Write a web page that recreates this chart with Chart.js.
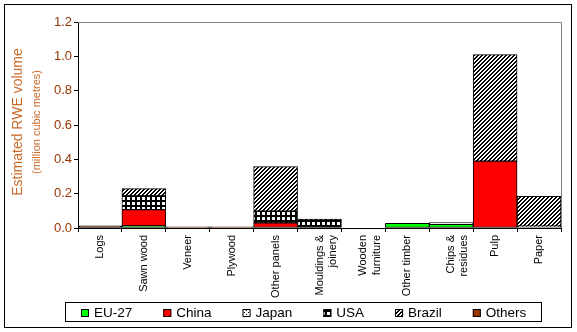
<!DOCTYPE html>
<html>
<head>
<meta charset="utf-8">
<script src="https://cdn.jsdelivr.net/npm/chart.js@4"></script>
<style>
  html, body { margin: 0; padding: 0; background: #fff; }
  #wrap { width: 577px; height: 332px; position: relative; }
</style>
</head>
<body>
<div id="wrap"><canvas id="rweChart"></canvas></div>
<script>
// product groups along the x axis
const categories = ['Logs', 'Sawn wood', 'Veneer', 'Plywood', 'Other panels',
  ['Mouldings &', 'joinery'], ['Wooden', 'furniture'], 'Other timber',
  ['Chips &', 'residues'], 'Pulp', 'Paper'];

// estimated RWE volume by origin, million m3
const eu27   = [null, 0.012, null, null, null, null, null, 0.027, 0.022, null, null];
const china  = [null, 0.095, null, null, 0.030, null, null, null, null, 0.390, null];
const japan  = [null, null, null, null, null, null, null, null, 0.010, null, 0.010];
const usa    = [null, 0.080, null, null, 0.068, 0.052, null, null, null, null, null];
const brazil = [null, 0.042, null, null, 0.260, null, null, null, null, 0.620, 0.175];
const others = [0.012, null, 0.007, 0.007, null, null, null, null, null, null, null];

const yTicks = [0, 0.2, 0.4, 0.6, 0.8, 1.0, 1.2];

const FONT = '"Liberation Sans", Arial, sans-serif';

// small tiled fills for the hatched series
function makePattern(size, paint) {
  const c = document.createElement('canvas');
  c.width = size; c.height = size;
  const g = c.getContext('2d');
  g.fillStyle = '#fff';
  g.fillRect(0, 0, size, size);
  g.fillStyle = '#000';
  for (let y = 0; y < size; y++) {
    for (let x = 0; x < size; x++) {
      if (paint(x, y)) g.fillRect(x, y, 1, 1);
    }
  }
  return g.createPattern(c, 'repeat');
}

const dotted  = makePattern(4, (x, y) => (x === 0 && y === 0) || (x === 2 && y === 2));
const grid    = makePattern(5, (x, y) => x < 2 || y < 2);
const stripes = makePattern(4, (x, y) => (x + y) % 4 < 2);

function series(label, data, fill, border) {
  return {
    label: label,
    data: data,
    backgroundColor: fill,
    borderColor: '#000',
    borderWidth: border || 1,
    borderSkipped: false,
    categoryPercentage: 1.0,
    barPercentage: 1.0
  };
}

const framePlugin = {
  id: 'frame',
  beforeDraw(chart) {
    const ctx = chart.ctx;
    ctx.save();
    ctx.fillStyle = '#fff';
    ctx.fillRect(0, 0, chart.width, chart.height);
    ctx.restore();
  },
  beforeDatasetsDraw(chart) {
    const {ctx, chartArea: a} = chart;
    ctx.save();
    ctx.strokeStyle = '#808080';
    ctx.lineWidth = 1;
    ctx.beginPath();
    ctx.moveTo(a.left, Math.round(a.top) + 0.5);
    ctx.lineTo(Math.round(a.right) + 0.5, Math.round(a.top) + 0.5);
    ctx.lineTo(Math.round(a.right) + 0.5, a.bottom);
    ctx.stroke();
    ctx.restore();
  },
  afterDraw(chart) {
    const {ctx, chartArea: a} = chart;
    ctx.save();

    // outer border
    ctx.strokeStyle = '#000';
    ctx.lineWidth = 1;
    ctx.strokeRect(4.5, 4.5, 567, 323);

    // y axis title, two sizes
    const cy = (a.top + a.bottom) / 2 - 3;
    ctx.fillStyle = '#cc6a2a';
    ctx.textAlign = 'center';
    ctx.textBaseline = 'middle';
    ctx.translate(18, cy);
    ctx.rotate(-Math.PI / 2);
    ctx.font = '14px ' + FONT;
    ctx.fillText('Estimated RWE volume', 0, 0);
    ctx.font = '11px ' + FONT;
    ctx.fillText('(million cubic metres)', 0, 19);
    ctx.setTransform(1, 0, 0, 1, 0, 0);

    // legend box
    ctx.strokeRect(65.5, 302.5, 476, 19);
    ctx.font = '13.5px ' + FONT;
    ctx.textAlign = 'left';
    ctx.textBaseline = 'alphabetic';
    let x = 81;
    chart.data.datasets.forEach(ds => {
      ctx.fillStyle = ds.backgroundColor;
      ctx.fillRect(x, 309, 8, 8);
      ctx.strokeStyle = '#000';
      ctx.lineWidth = 1;
      ctx.strokeRect(x + 0.5, 309.5, 7, 7);
      ctx.fillStyle = '#000';
      ctx.fillText(ds.label, x + 13, 317);
      x += 13 + ctx.measureText(ds.label).width + 31;
    });
    ctx.restore();
  }
};

new Chart(document.getElementById('rweChart'), {
  type: 'bar',
  data: {
    labels: categories,
    datasets: [
      series('EU-27', eu27, '#00ff00'),
      series('China', china, '#ff0000'),
      series('Japan', japan, dotted),
      series('USA', usa, grid),
      series('Brazil', brazil, stripes),
      series('Others', others, '#993300', 2)
    ]
  },
  options: {
    responsive: true,
    maintainAspectRatio: false,
    animation: false,
    layout: { padding: { top: 22, right: 16, left: 0, bottom: 0 } },
    plugins: {
      legend: { display: false },
      title: { display: false },
      tooltip: { enabled: false }
    },
    scales: {
      x: {
        stacked: true,
        grid: {
          offset: true,
          drawOnChartArea: false,
          color: '#000',
          tickLength: 4
        },
        border: { color: '#000', width: 1 },
        ticks: {
          minRotation: 90,
          maxRotation: 90,
          autoSkip: false,
          padding: 3,
          color: '#000',
          font: { family: FONT, size: 11 }
        },
        afterFit(scale) { scale.height = 104; }
      },
      y: {
        stacked: true,
        min: 0,
        max: 1.2,
        grid: {
          drawOnChartArea: false,
          color: '#000',
          tickLength: 4
        },
        border: { color: '#000', width: 1 },
        afterBuildTicks(scale) { scale.ticks = yTicks.map(v => ({ value: v })); },
        ticks: {
          padding: 2,
          color: '#993300',
          font: { family: FONT, size: 13 },
          callback: v => Number(v).toFixed(1)
        },
        afterFit(scale) { scale.width = 78; }
      }
    }
  },
  plugins: [framePlugin]
});
</script>
</body>
</html>
